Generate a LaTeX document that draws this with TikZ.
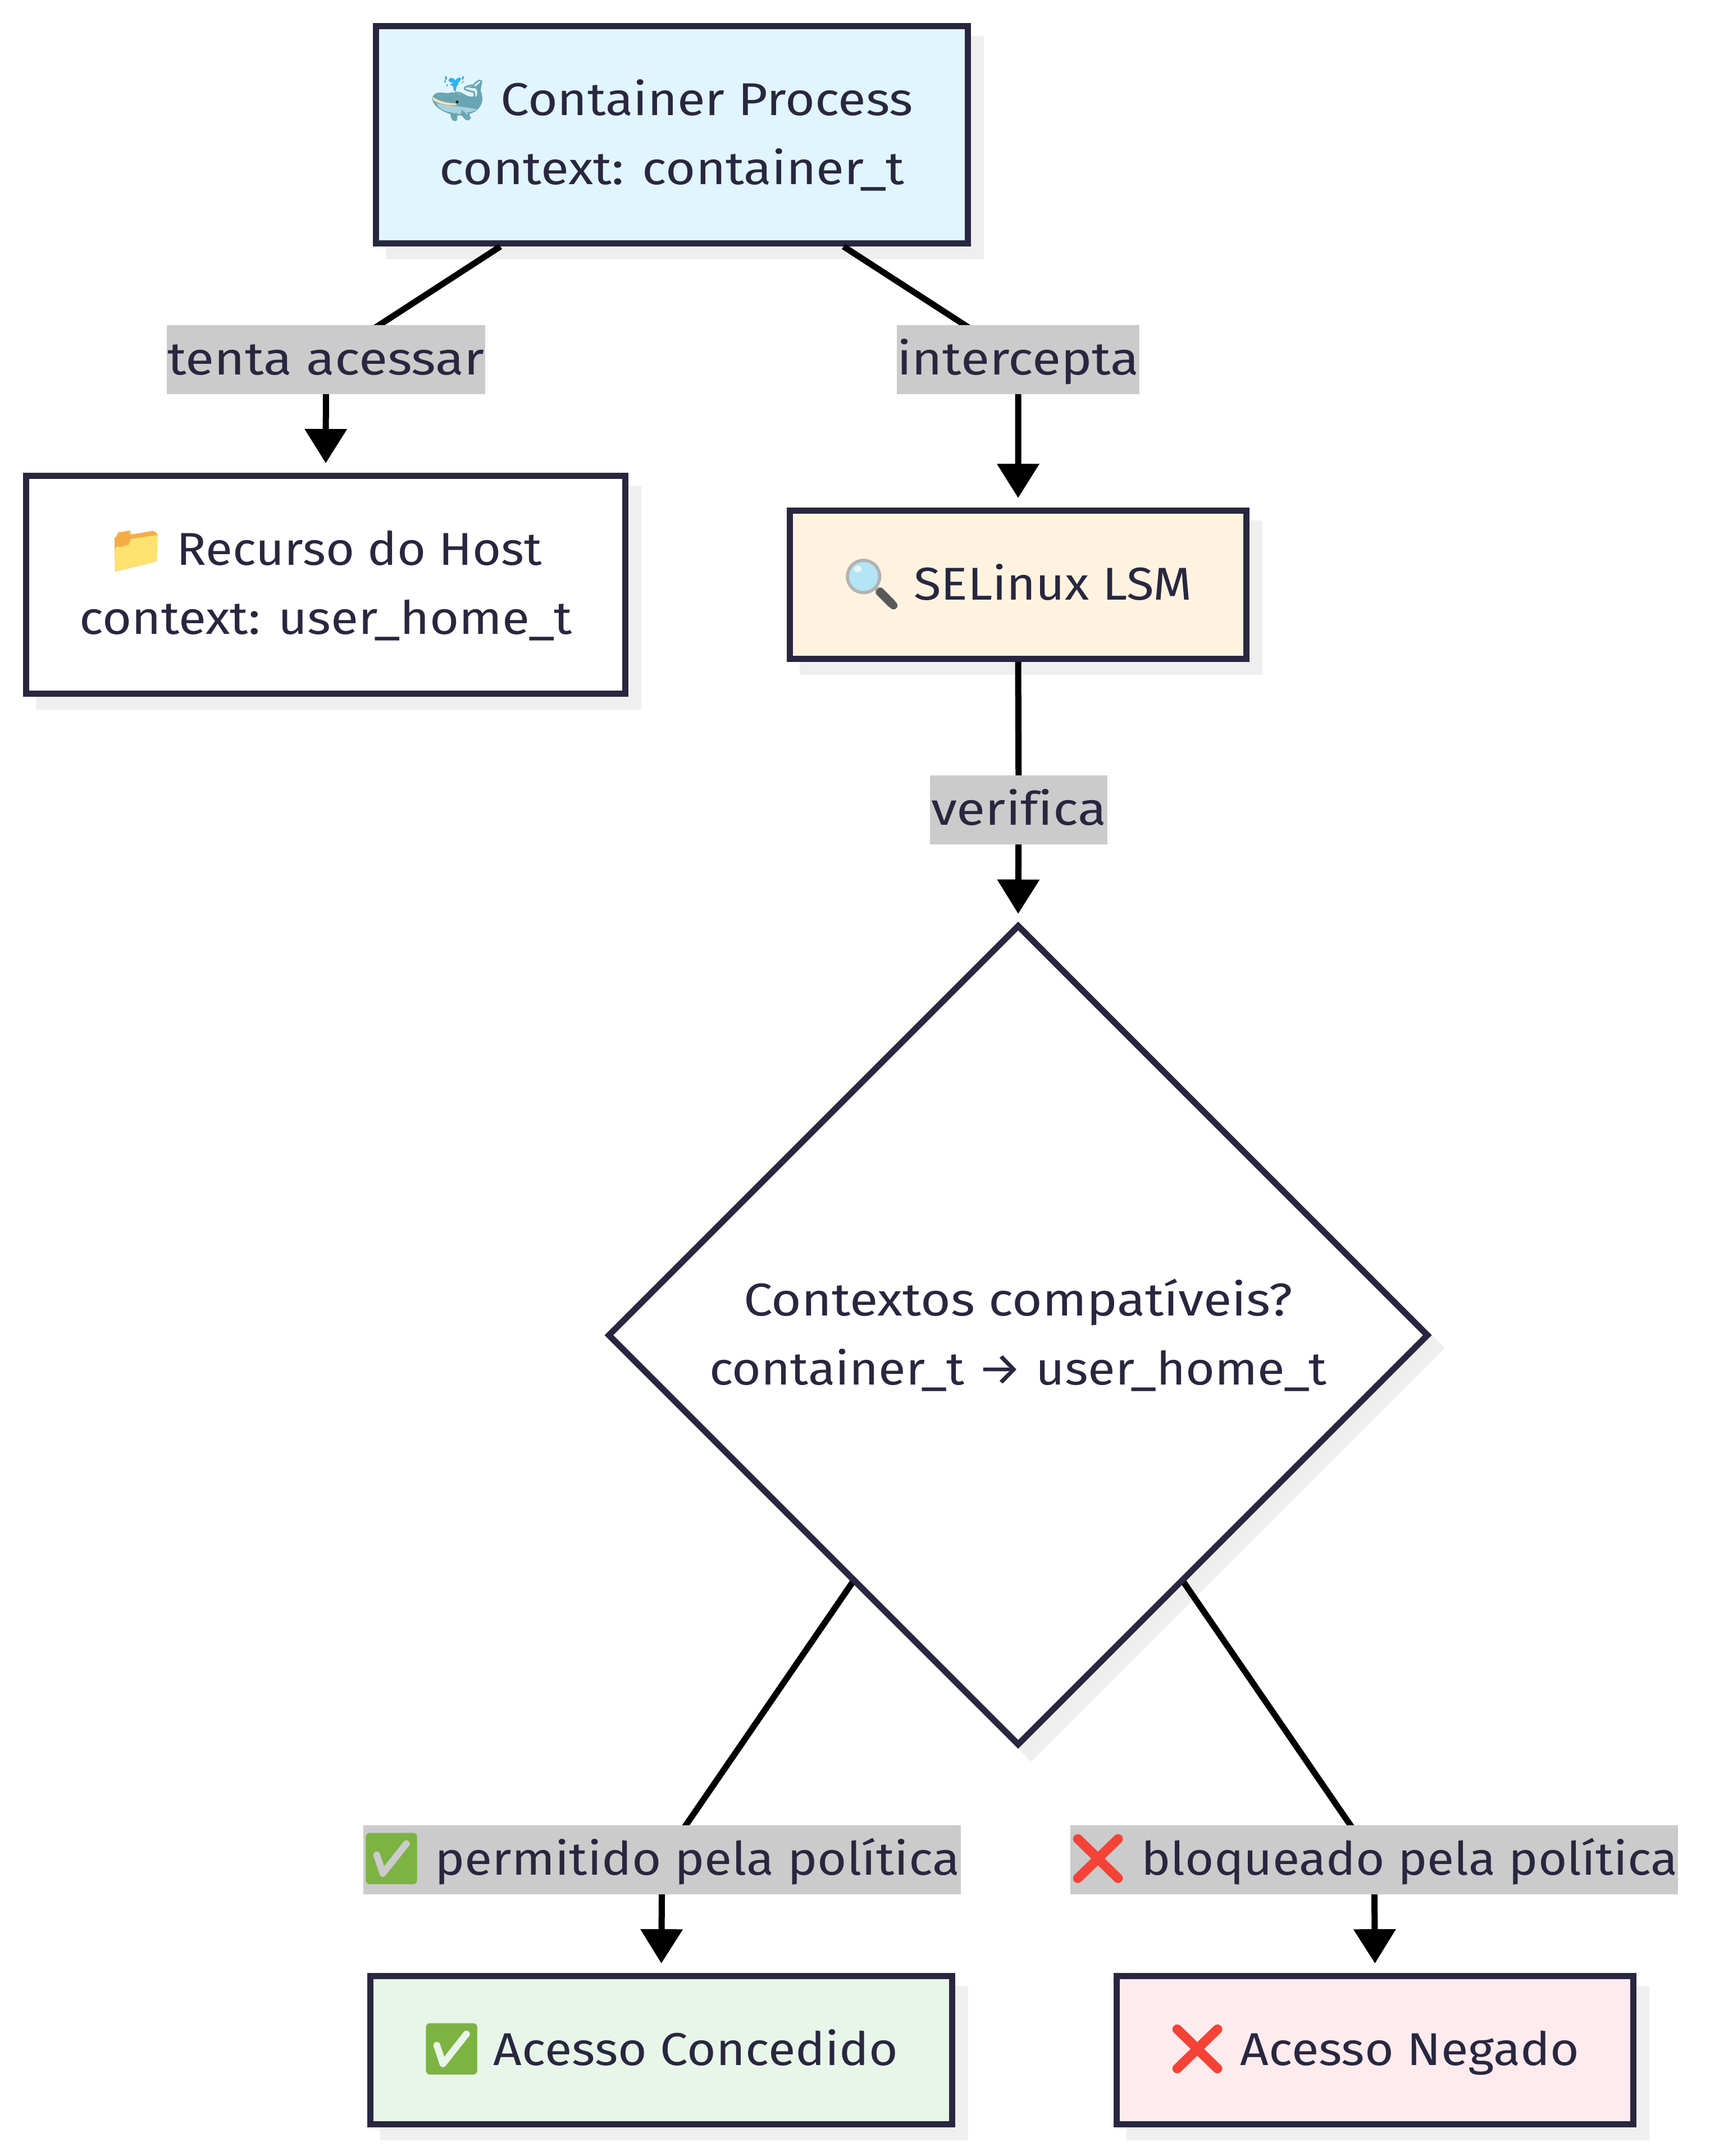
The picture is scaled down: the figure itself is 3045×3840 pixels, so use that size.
\documentclass[tikz,border=0pt]{standalone}
\usepackage{fontspec}
\usepackage{graphicx}
\usetikzlibrary{arrows.meta,calc,shapes.geometric}
\setmainfont[Ligatures=NoCommon]{Fira Sans}
\newfontfamily\emo{Noto Emoji}
\definecolor{ink}{HTML}{29273F}
\definecolor{shade}{HTML}{EFEFEF}
\definecolor{lbl}{HTML}{CBCBCB}
\definecolor{fillA}{HTML}{E1F5FE}
\definecolor{fillS}{HTML}{FFF3E0}
\definecolor{fillC}{HTML}{E8F5E9}
\definecolor{fillN}{HTML}{FFEBEE}
\definecolor{whale}{HTML}{6AA5B3}
\definecolor{belly}{HTML}{A8D3DE}
\definecolor{spout}{HTML}{29B6F6}
\definecolor{cream}{HTML}{FFE0B2}
\definecolor{tab}{HTML}{F5AD45}
\definecolor{folder}{HTML}{FFE26F}
\definecolor{okgreen}{HTML}{7CB342}
\definecolor{nored}{HTML}{F44336}
\definecolor{lens}{HTML}{B3E5F5}
\newcommand\tw[2]{\resizebox{#1pt}{\height}{#2}}
\newcommand\st{\rule[-35pt]{0pt}{123pt}}
\pgfdeclarelayer{top}
\pgfsetlayers{main,top}
\tikzset{
 base/.style={text=ink,font=\fontsize{82}{123}\selectfont,inner sep=0pt,align=center},
 box/.style={base,rectangle,draw=ink,line width=11pt},
 lab/.style={base,rectangle,fill=lbl,minimum height=123pt},
 conn/.style={draw=black,line width=11pt,-{Triangle[length=61pt,width=73pt]},shorten >=17pt},
 glyph/.style={inner sep=0pt,font=\emo\fontsize{90}{90}\selectfont},
 shadowbox/.style={fill=shade,draw=shade,line width=11pt,inner sep=0pt},
}
\begin{document}
\begin{tikzpicture}[x=1pt,y=-1pt]
\useasboundingbox (0,0) rectangle (3045,3840);
\fill[white] (0,0) rectangle (3045,3840);
% shadows
\node[shadowbox,minimum width=1054pt,minimum height=387pt] (As) at (1219.5,263) {};
\node[shadowbox,minimum width=1067pt,minimum height=388pt] (Rs) at (603,1064.5) {};
\node[shadowbox,minimum width=813pt,minimum height=264pt] (Ss) at (1836,1064.5) {};
\node[shadowbox,minimum width=1036pt,minimum height=264pt] (Cs) at (1200.5,3674.5) {};
\node[shadowbox,minimum width=920pt,minimum height=264pt] (Ns) at (2471.5,3674.5) {};
\node[shadowbox,diamond,aspect=1,minimum width=1462pt,minimum height=1462pt] (Ds) at (1836,2401) {};
% boxes
\node[box,fill=fillA,minimum width=1054pt,minimum height=387pt] (A) at (1196.5,240)
 {\hspace*{124pt}\tw{735}{Container Process}\st\\\tw{827}{context: container\_t}\st};
\node[box,fill=white,minimum width=1067pt,minimum height=388pt] (R) at (580,1041.5)
 {\hspace*{120pt}\tw{650}{Recurso do Host}\st\\\tw{877}{context: user\_home\_t}\st};
\node[box,fill=fillS,minimum width=813pt,minimum height=264pt] (S) at (1813,1041.5)
 {\hspace*{124pt}\tw{496}{SELinux LSM}\st};
\node[box,fill=fillC,minimum width=1036pt,minimum height=264pt] (C) at (1177.5,3651.5)
 {\hspace*{123pt}\tw{720}{Acesso Concedido}\st};
\node[box,fill=fillN,minimum width=920pt,minimum height=264pt] (N) at (2448.5,3651.5)
 {\hspace*{124pt}\tw{604}{Acesso Negado}\st};
\begin{pgfonlayer}{top}
\node[box,diamond,aspect=1,fill=white,minimum width=1462pt,minimum height=1462pt] (D) at (1813,2378)
 {\tw{978}{Contextos compatíveis?}\st\\\tw{1100}{container\_t → user\_home\_t}\st};
\node[lab,minimum width=567pt] (LT) at (580.5,640.5) {\tw{564}{tenta acessar}\st};
\node[lab,minimum width=432pt] (LI) at (1813,640.5) {\tw{431}{intercepta}\st};
\node[lab,minimum width=316pt] (LV) at (1814,1442.5) {\tw{312}{verifica}\st};
\node[lab,minimum width=1064pt] (LP) at (1179,3312.5) {\hspace*{125pt}\tw{935}{permitido pela política}\st};
\node[lab,minimum width=1082pt] (LB) at (2447,3312.5) {\hspace*{126pt}\tw{955}{bloqueado pela política}\st};
% whale emoji
\node[glyph,text=whale,font=\emo\fontsize{76}{76}\selectfont] (e1) at (815,178) {\char"1F433};
\begin{scope}[shift={(750,120)},x=0.3333pt,y=-0.3333pt]
 \fill[whale] (62,160) .. controls (75,140) and (130,135) .. (182,138) .. controls (230,145) and (270,165) .. (295,155) .. controls (305,140) and (300,120) .. (290,112) -- (248,108) .. controls (270,98) and (285,100) .. (293,100) -- (327,70) .. controls (325,90) and (318,110) .. (318,125) .. controls (335,170) and (330,205) .. (290,230) .. controls (250,250) and (160,250) .. (110,225) .. controls (80,205) and (65,185) .. (62,160) -- cycle;
 \fill[belly] (80,190) .. controls (130,205) and (210,205) .. (300,225) .. controls (250,250) and (160,250) .. (110,225) .. controls (95,215) and (85,200) .. (80,190) -- cycle;
 \fill[cream] (62,157) .. controls (90,180) and (140,192) .. (190,193) -- (188,201) .. controls (130,205) and (85,190) .. (65,175) -- cycle;
 \fill[black!85] (192,185) circle[radius=8];
 \fill[whale] (165,250) -- (170,285) -- (190,285) -- (192,248) -- cycle;
 \fill[whale] (215,225) -- (268,270) -- (245,280) -- (215,250) -- cycle;
 \fill[spout] (182,135) .. controls (178,115) and (176,100) .. (172,95) .. controls (165,78) and (155,75) .. (148,65) .. controls (150,52) and (172,52) .. (183,70) .. controls (192,52) and (212,50) .. (213,62) .. controls (205,75) and (192,85) .. (190,100) .. controls (187,112) and (186,122) .. (182,135) -- cycle;
 \fill[spout] (132,53) circle[radius=6] (128,72) circle[radius=5] (139,94) circle[radius=5] (224,53) circle[radius=6] (224,75) circle[radius=4];
\end{scope}
% folder emoji
\node[glyph,text=tab,font=\emo\fontsize{72}{72}\selectfont] (e2) at (243,982) {\char"1F4C1};
\begin{scope}[shift={(0,800)},x=0.765pt,y=-0.3333pt]
 \fill[tab] (268,525) -- (268,480) -- (275,445) -- (298,440) -- (302,460) -- (362,440) -- (367,460) -- (305,480) -- (300,510) -- cycle;
 \fill[folder] (268,652) -- (268,530) -- (300,512) -- (306,480) -- (367,458) -- (365,600) -- cycle;
\end{scope}
% magnifier emoji
\node[glyph,text=gray,font=\emo\fontsize{84}{84}\selectfont] (e3) at (1552,1040) {\char"1F50D};
\begin{scope}[shift={(1400,800)},x=0.574pt,y=-0.574pt]
 \draw[line width=7pt,black!35] (272,425) -- (292,443);
 \draw[line width=14pt,black!65,line cap=round] (292,443) -- (333,485);
 \fill[black!30] (240,395) circle[radius=55];
 \fill[lens] (240,395) circle[radius=45];
 \fill[white,opacity=.7] (222,372) circle[x radius=12,y radius=10];
\end{scope}
% check and cross emoji
\node[glyph,text=okgreen] (e4) at (698,3311) {\char"2705};
\node[glyph,text=nored] (e5) at (1956,3311) {\char"274C};
\node[glyph,text=okgreen] (e6) at (805,3650) {\char"2705};
\node[glyph,text=nored] (e7) at (2133,3650) {\char"274C};
\end{pgfonlayer}
% connectors
\draw[conn] ($(A.south)+(-305.5,0)$) -- (LT.center) -- (R.north);
\draw[conn] ($(A.south)+(305.5,0)$) -- (LI.center) -- (S.north);
\draw[conn,shorten >=14pt] (S.south) -- (LV.center) -- (D.north);
\draw[conn] ($(D.center)+(-290,433)$) -- (LP.center) -- (C.north);
\draw[conn] ($(D.center)+(290,433)$) -- (LB.center) -- (N.north);
\end{tikzpicture}
\end{document}
